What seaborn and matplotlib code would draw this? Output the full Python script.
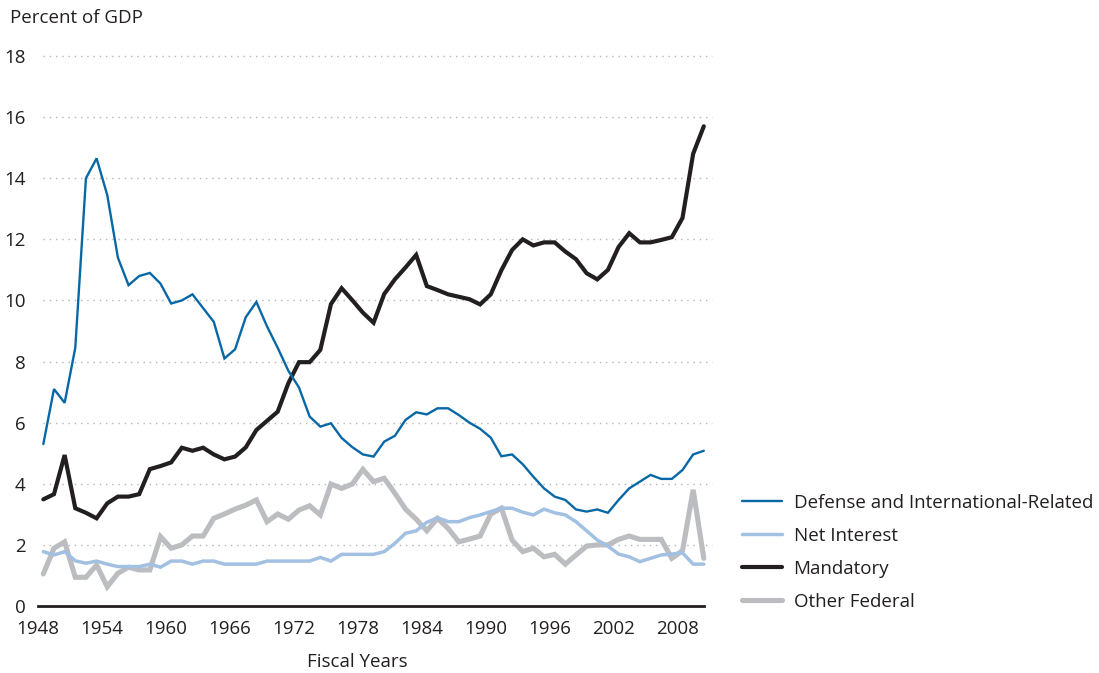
import numpy as np
import pandas as pd
import matplotlib
matplotlib.use("Agg")
import matplotlib.pyplot as plt
import seaborn as sns

# Du lieu doc tu hinh (phan tram GDP, nam tai khoa 1948-2010)
years = list(range(1948, 2011))

defense = [5.3, 7.1, 6.65, 8.45, 14.0, 14.65, 13.45, 11.4, 10.5, 10.8,
           10.9, 10.55, 9.9, 10.0, 10.2, 9.75, 9.3, 8.1, 8.4, 9.45,
           9.95, 9.15, 8.45, 7.7, 7.15, 6.2, 5.87, 5.98, 5.5, 5.2,
           4.96, 4.89, 5.38, 5.57, 6.09, 6.34, 6.27, 6.47, 6.47, 6.25,
           6.0, 5.8, 5.51, 4.9, 4.96, 4.64, 4.23, 3.85, 3.58, 3.47,
           3.16, 3.09, 3.16, 3.05, 3.47, 3.85, 4.07, 4.29, 4.16, 4.16,
           4.45, 4.96, 5.08]

net_interest = [1.78, 1.67, 1.78, 1.48, 1.4, 1.47, 1.37, 1.29, 1.29, 1.29,
                1.37, 1.27, 1.47, 1.47, 1.37, 1.47, 1.47, 1.37, 1.37, 1.37,
                1.37, 1.47, 1.47, 1.47, 1.47, 1.47, 1.59, 1.47, 1.69, 1.69,
                1.69, 1.69, 1.78, 2.05, 2.38, 2.46, 2.74, 2.89, 2.76, 2.76,
                2.89, 2.98, 3.09, 3.2, 3.2, 3.07, 2.98, 3.17, 3.05, 2.98,
                2.76, 2.46, 2.16, 1.96, 1.7, 1.61, 1.45, 1.56, 1.67, 1.7,
                1.74, 1.37, 1.37]

mandatory = [3.49, 3.66, 4.94, 3.2, 3.05, 2.87, 3.36, 3.58, 3.58, 3.66,
             4.48, 4.58, 4.7, 5.18, 5.08, 5.18, 4.96, 4.8, 4.89, 5.19,
             5.76, 6.06, 6.36, 7.29, 7.98, 7.98, 8.38, 9.88, 10.4, 10.01,
             9.6, 9.27, 10.21, 10.69, 11.08, 11.49, 10.47, 10.34, 10.2, 10.12,
             10.04, 9.87, 10.2, 10.99, 11.65, 12.0, 11.8, 11.9, 11.9, 11.6,
             11.35, 10.89, 10.69, 11.0, 11.75, 12.2, 11.9, 11.9, 11.98, 12.07,
             12.7, 14.8, 15.7]

other_federal = [1.05, 1.89, 2.1, 0.94, 0.94, 1.34, 0.63, 1.07, 1.27, 1.18,
                 1.18, 2.27, 1.89, 2.0, 2.29, 2.29, 2.87, 3.01, 3.17, 3.3,
                 3.47, 2.76, 3.01, 2.84, 3.14, 3.28, 2.98, 3.99, 3.85, 3.99,
                 4.47, 4.07, 4.18, 3.69, 3.17, 2.84, 2.46, 2.87, 2.54, 2.1,
                 2.19, 2.29, 3.01, 3.2, 2.16, 1.78, 1.89, 1.61, 1.69, 1.37,
                 1.67, 1.96, 2.0, 2.0, 2.18, 2.29, 2.18, 2.18, 2.18, 1.56,
                 1.81, 3.8, 1.56]

series_names = ["Defense and International-Related", "Net Interest",
                "Mandatory", "Other Federal"]
xtick_years = list(range(1948, 2009, 6))
ytick_vals = list(range(0, 19, 2))

colors = {"Defense and International-Related": "#0868a6",
          "Net Interest": "#a2c0e2",
          "Mandatory": "#231f20",
          "Other Federal": "#bcbdc0"}
widths = {"Defense and International-Related": 1.7,
          "Net Interest": 2.5,
          "Mandatory": 3.0,
          "Other Federal": 3.7}

df = pd.DataFrame({"year": years,
                   "Defense and International-Related": defense,
                   "Net Interest": net_interest,
                   "Mandatory": mandatory,
                   "Other Federal": other_federal})
long_df = df.melt(id_vars="year", var_name="series", value_name="pct")
# diem nam o giua nam tai khoa
long_df["x"] = long_df["year"] + 0.5

sns.set_theme(style="white")
plt.rcParams["font.family"] = ["Open Sans", "DejaVu Sans"]
text_color = "#231f20"
fs = 13.5

fig = plt.figure(figsize=(10.99, 6.73), dpi=100)
ax = fig.add_axes([38 / 1099, 1 - 606 / 673, 669 / 1099, 550 / 673])

# luoi cham
for v in ytick_vals[1:]:
    ax.plot([0.0075, 1.0075], [v, v], transform=ax.get_yaxis_transform(),
            color="#b5b5b5", lw=1.0, ls=(0, (1, 3.5)), clip_on=False, zorder=1)

draw_order = ["Other Federal", "Net Interest", "Mandatory",
              "Defense and International-Related"]
for name in draw_order:
    sub = long_df[long_df["series"] == name]
    sns.lineplot(data=sub, x="x", y="pct", ax=ax, color=colors[name],
                 linewidth=widths[name], label=name, zorder=3,
                 solid_joinstyle="miter")

ax.set_xlim(1948, 2010.8)
ax.set_ylim(0, 18)
ax.set_xticks(xtick_years)
ax.set_xticklabels([str(y) for y in xtick_years])
ax.set_yticks(ytick_vals)
ax.set_yticklabels([str(v) for v in ytick_vals])
ax.set_xlabel("")
ax.set_ylabel("")

for s in ["left", "right", "top"]:
    ax.spines[s].set_visible(False)
ax.spines["bottom"].set_color(text_color)
ax.spines["bottom"].set_linewidth(2.0)
ax.spines["bottom"].set_bounds(1948, 2010.5)
ax.tick_params(axis="x", direction="out", length=5, width=1.0,
               color=text_color, labelsize=fs, labelcolor=text_color, pad=5)
ax.tick_params(axis="y", length=0, labelsize=fs, labelcolor=text_color, pad=9)

fig.text(10 / 1099, 1 - 18 / 673, "Percent of GDP", fontsize=fs,
         color=text_color, va="center", ha="left")
fig.text(357 / 1099, 1 - 662 / 673, "Fiscal Years", fontsize=fs,
         color=text_color, va="center", ha="center")

handles, labels = ax.get_legend_handles_labels()
order = [labels.index(n) for n in series_names]
leg = ax.legend([handles[i] for i in order], [labels[i] for i in order],
                loc="upper left", bbox_to_anchor=(742 / 1099, 1 - 494 / 673),
                bbox_transform=fig.transFigure, frameon=False, fontsize=fs,
                handlelength=2.15, handletextpad=0.6, labelspacing=0.8,
                borderpad=0, borderaxespad=0)
for t in leg.get_texts():
    t.set_color(text_color)
for h in leg.get_lines():
    h.set_solid_capstyle("round")

fig.savefig("out.png", dpi=100)
